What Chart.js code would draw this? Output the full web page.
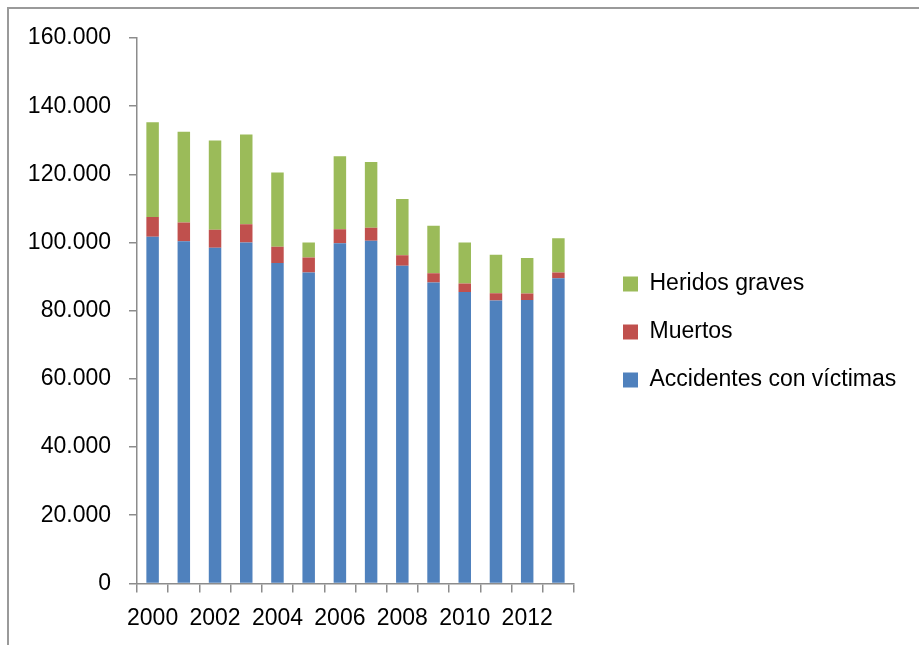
<!DOCTYPE html>
<html>
<head>
<meta charset="utf-8">
<script src="https://cdn.jsdelivr.net/npm/chart.js@4"></script>
<style>
  html, body { margin: 0; padding: 0; background: #fff; overflow: hidden; }
  #frame { position: absolute; left: 7px; top: 7px; width: 1000px; height: 1000px; border: 2px solid #9a9a9a; box-sizing: border-box; }
  #wrap { position: absolute; left: 0; top: 0; width: 919px; height: 645px; }
</style>
</head>
<body>
<div id="frame"></div>
<div id="wrap"><canvas id="accChart" width="919" height="645"></canvas></div>
<script>
// Data
const years = ['2000', '2001', '2002', '2003', '2004', '2005', '2006', '2007', '2008', '2009', '2010', '2011', '2012', '2013'];
const accidentes = [101729, 100393, 98433, 99987, 94009, 91187, 99797, 100508, 93161, 88251, 85503, 83027, 83115, 89519];
const muertos = [5776, 5517, 5347, 5399, 4741, 4442, 4104, 3823, 3100, 2714, 2478, 2060, 1903, 1680];
const heridosGraves = [27764, 26566, 26156, 26305, 21805, 4400, 21382, 19295, 16488, 13923, 11995, 11347, 10444, 10086];

const fontFamily = '"Liberation Sans", Arial, sans-serif';

// thousands with a dot, like 160.000
function fmt(v) {
  return String(v).replace(/\B(?=(\d{3})+(?!\d))/g, '.');
}

// legend is wider than chart.js allows by default, and sits a bit right of the plot
const legendShift = {
  id: 'legendShift',
  beforeLayout(chart) {
    const lg = chart.legend;
    if (lg && !lg._wide) {
      const fit = lg.fit;
      lg.fit = function () {
        fit.call(this);
        this.width = 345;
      };
      lg._wide = true;
    }
  },
  afterLayout(chart) {
    const lg = chart.legend;
    lg.left += 24;
    lg.right += 24;
    lg.top -= 9;
    lg.bottom -= 9;
  }
};

const ctx = document.getElementById('accChart').getContext('2d');

const accChart = new Chart(ctx, {
  type: 'bar',
  data: {
    labels: years,
    datasets: [
      { label: 'Accidentes con víctimas', data: accidentes, backgroundColor: '#4F81BD' },
      { label: 'Muertos', data: muertos, backgroundColor: '#C0504D' },
      { label: 'Heridos graves', data: heridosGraves, backgroundColor: '#9BBB59' },
    ],
  },
  options: {
    responsive: false,
    animation: false,
    layout: {
      padding: { left: 0, top: 38, right: 0, bottom: 1 },
    },
    datasets: {
      bar: { categoryPercentage: 1.0, barPercentage: 0.4 },
    },
    scales: {
      x: {
        stacked: true,
        grid: { drawOnChartArea: false, tickLength: 9, color: '#8c8c8c', lineWidth: 1.5 },
        border: { color: '#8c8c8c', width: 1.5 },
        ticks: {
          autoSkip: false,
          maxRotation: 0,
          padding: 12,
          color: '#000',
          font: { family: fontFamily, size: 23 },
          callback: function (value, index) {
            return index % 2 === 0 ? this.getLabelForValue(value) : '';
          },
        },
      },
      y: {
        stacked: true,
        min: 0,
        max: 160000,
        afterFit(scale) { scale.width = 137; },
        grid: { drawOnChartArea: false, tickLength: 8, color: '#8c8c8c', lineWidth: 1.5 },
        border: { color: '#8c8c8c', width: 1.5 },
        ticks: {
          stepSize: 20000,
          padding: 18,
          color: '#000',
          font: { family: fontFamily, size: 23 },
          callback: (v) => fmt(v),
        },
      },
    },
    plugins: {
      legend: {
        position: 'right',
        reverse: true,
        labels: {
          boxWidth: 15,
          boxHeight: 15,
          padding: 25,
          color: '#000',
          font: { family: fontFamily, size: 23 },
        },
      },
      tooltip: { enabled: false },
    },
  },
  plugins: [legendShift],
});
</script>
</body>
</html>
